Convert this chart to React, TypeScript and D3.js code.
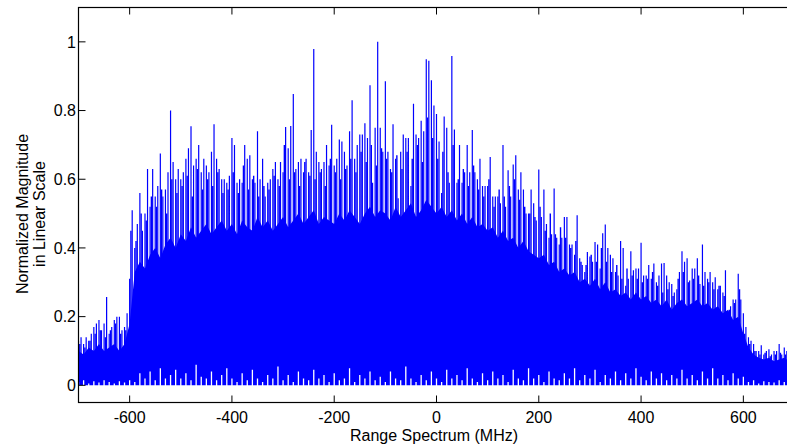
import React from 'react';
import * as d3 from 'd3';

const W = 787;
const H = 446;

const xTicks = [-600, -400, -200, 0, 200, 400, 600];
const xTickLabels = ['-600', '-400', '-200', '0', '200', '400', '600'];
const yTicks = [0, 0.2, 0.4, 0.6, 0.8, 1];
const yTickLabels = ['0', '0.2', '0.4', '0.6', '0.8', '1'];

// spike maxima read every 5 MHz, from -700 MHz to 700 MHz
const peakStart = -700;
const peakStep = 5;
const peaks = [
  0.13, 0.14, 0.12, 0.14, 0.13, 0.15, 0.17, 0.18, 0.19, 0.16, 0.18, 0.257, 0.15, 0.17, 0.19, 0.2, 0.2, 0.16, 0.17, 0.21,
  0.31, 0.51, 0.4, 0.47, 0.56, 0.45, 0.5, 0.63, 0.52, 0.63, 0.55, 0.58, 0.675, 0.55, 0.57, 0.62, 0.8, 0.65, 0.6, 0.63,
  0.6, 0.62, 0.66, 0.69, 0.754, 0.64, 0.66, 0.7, 0.62, 0.66, 0.64, 0.62, 0.68, 0.76, 0.66, 0.63, 0.6, 0.6, 0.59, 0.61,
  0.72, 0.7, 0.59, 0.6, 0.59, 0.7, 0.66, 0.67, 0.6, 0.59, 0.74, 0.6, 0.66, 0.55, 0.59, 0.6, 0.63, 0.65, 0.6, 0.65,
  0.62, 0.752, 0.69, 0.755, 0.848, 0.63, 0.65, 0.66, 0.62, 0.66, 0.62, 0.743, 0.979, 0.68, 0.65, 0.63, 0.65, 0.7, 0.64, 0.759,
  0.64, 0.66, 0.716, 0.71, 0.68, 0.64, 0.74, 0.83, 0.66, 0.7, 0.73, 0.73, 0.763, 0.72, 0.874, 0.59, 0.75, 1.0, 0.75, 0.68,
  0.885, 0.68, 0.63, 0.76, 0.66, 0.545, 0.68, 0.73, 0.72, 0.72, 0.58, 0.82, 0.73, 0.72, 0.77, 0.74, 0.949, 0.945, 0.888, 0.815,
  0.79, 0.71, 0.56, 0.783, 0.75, 0.59, 0.959, 0.745, 0.59, 0.7, 0.59, 0.62, 0.7, 0.62, 0.743, 0.62, 0.6, 0.66, 0.58, 0.58,
  0.58, 0.665, 0.55, 0.55, 0.55, 0.53, 0.7, 0.52, 0.626, 0.55, 0.643, 0.67, 0.57, 0.62, 0.57, 0.5, 0.5, 0.57, 0.53, 0.48,
  0.628, 0.49, 0.57, 0.47, 0.43, 0.44, 0.573, 0.43, 0.41, 0.43, 0.49, 0.49, 0.41, 0.41, 0.38, 0.495, 0.37, 0.35, 0.33, 0.388,
  0.375, 0.36, 0.417, 0.41, 0.34, 0.443, 0.468, 0.4, 0.38, 0.37, 0.33, 0.32, 0.42, 0.4, 0.29, 0.31, 0.39, 0.335, 0.34, 0.34,
  0.415, 0.32, 0.32, 0.35, 0.31, 0.355, 0.3, 0.32, 0.355, 0.356, 0.32, 0.3, 0.295, 0.27, 0.28, 0.33, 0.39, 0.36, 0.37, 0.305,
  0.34, 0.34, 0.37, 0.295, 0.41, 0.33, 0.31, 0.33, 0.3, 0.315, 0.28, 0.29, 0.27, 0.335, 0.19, 0.23, 0.25, 0.25, 0.325, 0.25,
  0.21, 0.17, 0.14, 0.13, 0.12, 0.1, 0.1, 0.117, 0.09, 0.1, 0.105, 0.09, 0.1, 0.1, 0.12, 0.09, 0.11, 0.1, 0.11, 0.1,
  0.1,
];

// secondary (dense) line tops, every 10 MHz from -697.5 MHz
const midStart = -697.5;
const midStep = 10;
const mids = [
  0.12, 0.11, 0.13, 0.15, 0.16, 0.14, 0.16, 0.18, 0.15, 0.16,
  0.45, 0.42, 0.5, 0.48, 0.55, 0.52, 0.57, 0.5, 0.6, 0.56,
  0.58, 0.61, 0.55, 0.63, 0.57, 0.6, 0.58, 0.62, 0.56, 0.57,
  0.62, 0.56, 0.64, 0.57, 0.61, 0.55, 0.58, 0.57, 0.61, 0.58,
  0.7, 0.6, 0.62, 0.58, 0.65, 0.61, 0.6, 0.62, 0.58, 0.66,
  0.62, 0.6, 0.63, 0.66, 0.62, 0.68, 0.65, 0.7, 0.64, 0.69,
  0.66, 0.62, 0.67, 0.63, 0.68, 0.66, 0.7, 0.65, 0.78, 0.72,
  0.66, 0.68, 0.62, 0.7, 0.6, 0.63, 0.58, 0.64, 0.57, 0.55,
  0.6, 0.52, 0.57, 0.55, 0.58, 0.6, 0.54, 0.52, 0.5, 0.49,
  0.52, 0.45, 0.5, 0.44, 0.46, 0.43, 0.4, 0.42, 0.36, 0.35,
  0.38, 0.36, 0.4, 0.36, 0.33, 0.35, 0.31, 0.34, 0.32, 0.31,
  0.3, 0.31, 0.33, 0.29, 0.27, 0.28, 0.26, 0.31, 0.33, 0.3,
  0.31, 0.32, 0.29, 0.3, 0.28, 0.29, 0.26, 0.22, 0.24, 0.28,
  0.15, 0.12, 0.1, 0.09, 0.095, 0.085, 0.09, 0.095, 0.09, 0.085,
];

// top of the solid band, every 10 MHz from -700 MHz
const bodyStart = -700;
const bodyStep = 10;
const bodyTop = [
  0.1, 0.09, 0.11, 0.1, 0.12, 0.1, 0.11, 0.12, 0.1, 0.12,
  0.18, 0.33, 0.36, 0.34, 0.38, 0.4, 0.37, 0.41, 0.43, 0.4,
  0.44, 0.42, 0.46, 0.43, 0.45, 0.47, 0.44, 0.46, 0.48, 0.45,
  0.47, 0.44, 0.48, 0.46, 0.45, 0.49, 0.46, 0.48, 0.45, 0.47,
  0.49, 0.46, 0.48, 0.5, 0.47, 0.49, 0.51, 0.47, 0.49, 0.48,
  0.47, 0.5, 0.48, 0.51, 0.49, 0.47, 0.5, 0.52, 0.49, 0.51,
  0.5, 0.48, 0.52, 0.49, 0.51, 0.53, 0.49, 0.51, 0.54, 0.52,
  0.5, 0.52, 0.49, 0.51, 0.48, 0.5, 0.47, 0.49, 0.46, 0.47,
  0.45, 0.46, 0.43, 0.45, 0.42, 0.43, 0.4, 0.42, 0.39, 0.38,
  0.37, 0.38, 0.35, 0.36, 0.33, 0.34, 0.32, 0.33, 0.3, 0.31,
  0.29, 0.31, 0.28, 0.3, 0.27, 0.28, 0.26, 0.27, 0.25, 0.27,
  0.25, 0.26, 0.24, 0.25, 0.23, 0.25, 0.22, 0.24, 0.25, 0.23,
  0.24, 0.25, 0.23, 0.24, 0.22, 0.23, 0.21, 0.22, 0.19, 0.2,
  0.15, 0.11, 0.09, 0.08, 0.075, 0.08, 0.07, 0.075, 0.08, 0.07,
  0.075,
];

// tops of the white gaps along the bottom edge, every 10 MHz
const floorStart = -700;
const floorStep = 10;
const floorVals = [
  0.01, 0.015, 0.005, 0.012, 0.008, 0.015, 0.01, 0.005, 0.012, 0.008,
  0.015, 0.01, 0.035, 0.02, 0.04, 0.015, 0.05, 0.02, 0.03, 0.045,
  0.02, 0.035, 0.015, 0.06, 0.025, 0.02, 0.04, 0.015, 0.03, 0.05,
  0.02, 0.01, 0.035, 0.015, 0.045, 0.02, 0.01, 0.03, 0.02, 0.055,
  0.015, 0.03, 0.01, 0.04, 0.02, 0.015, 0.045, 0.02, 0.03, 0.01,
  0.035, 0.015, 0.02, 0.05, 0.01, 0.03, 0.02, 0.04, 0.015, 0.025,
  0.01, 0.04, 0.02, 0.015, 0.055, 0.02, 0.01, 0.03, 0.015, 0.04,
  0.02, 0.01, 0.045, 0.02, 0.03, 0.015, 0.05, 0.02, 0.01, 0.035,
  0.015, 0.04, 0.02, 0.03, 0.01, 0.045, 0.02, 0.015, 0.05, 0.02,
  0.03, 0.01, 0.04, 0.02, 0.015, 0.035, 0.02, 0.05, 0.015, 0.03,
  0.02, 0.045, 0.01, 0.03, 0.02, 0.04, 0.015, 0.035, 0.02, 0.05,
  0.025, 0.015, 0.04, 0.02, 0.035, 0.015, 0.03, 0.02, 0.045, 0.02,
  0.03, 0.015, 0.04, 0.02, 0.05, 0.02, 0.03, 0.015, 0.035, 0.02,
  0.025, 0.01, 0.015, 0.005, 0.012, 0.01, 0.008, 0.015, 0.01, 0.012,
  0.01,
];
const baseLevel = 0.0;

const FONT = '"Liberation Sans", Arial, Helvetica, sans-serif';
const BLUE = '#0000ff';

export default function App() {
  const x = d3.scaleLinear().domain([-700, 700]).range([78.5, 794.5]);
  const y = d3.scaleLinear().domain([-0.05, 1.1]).range([402.5, 7.5]);

  const bodyArea = d3
    .area<number>()
    .x((_, i) => x(bodyStart + i * bodyStep))
    .y0(() => y(baseLevel))
    .y1((v) => y(v));
  const bodyPath = bodyArea(bodyTop) || '';

  const seg = (f: number, v: number) =>
    `M${x(f).toFixed(2)},${y(0.06).toFixed(2)}V${y(v).toFixed(2)}`;
  const spikePath = peaks.map((v, i) => seg(peakStart + i * peakStep, v)).join('');
  const midPath = mids.map((v, i) => seg(midStart + i * midStep, v)).join('');
  const gapPath = floorVals
    .map((v, i) => `M${x(floorStart + i * floorStep).toFixed(2)},${y(-0.02).toFixed(2)}V${y(v).toFixed(2)}`)
    .join('');

  const x0 = x(-700);
  const x1 = x(700);
  const y0 = y(-0.05);
  const y1 = y(1.1);
  const tl = 7;

  return (
    <svg
      width={W}
      height={H}
      style={{ position: 'absolute', left: 0, top: 0, background: '#fff' }}
      fontFamily={FONT}
    >
      <defs>
        <clipPath id="plotclip">
          <rect x={x0} y={y1} width={x1 - x0} height={y0 - y1} />
        </clipPath>
      </defs>
      <g clipPath="url(#plotclip)">
        <path d={bodyPath} fill={BLUE} stroke="none" />
        <path d={midPath} fill="none" stroke={BLUE} strokeWidth={1.4} />
        <path d={spikePath} fill="none" stroke={BLUE} strokeWidth={1.2} />
        <path d={gapPath} fill="none" stroke="#fff" strokeWidth={1.3} />
      </g>

      {/* box */}
      <rect x={x0} y={y1} width={x1 - x0} height={y0 - y1} fill="none" stroke="#000" strokeWidth={1.2} />

      {/* x ticks */}
      {xTicks.map((t, i) => (
        <g key={'xt' + t}>
          <line x1={x(t)} x2={x(t)} y1={y0} y2={y0 - tl} stroke="#000" strokeWidth={1} />
          <line x1={x(t)} x2={x(t)} y1={y1} y2={y1 + tl} stroke="#000" strokeWidth={1} />
          <text x={x(t)} y={423} textAnchor="middle" fontSize={16} fill="#000">
            {xTickLabels[i]}
          </text>
        </g>
      ))}

      {/* y ticks */}
      {yTicks.map((t, i) => (
        <g key={'yt' + t}>
          <line x1={x0} x2={x0 + tl} y1={y(t)} y2={y(t)} stroke="#000" strokeWidth={1} />
          <line x1={x1} x2={x1 - tl} y1={y(t)} y2={y(t)} stroke="#000" strokeWidth={1} />
          <text x={76} y={y(t)} dy="0.36em" textAnchor="end" fontSize={16} fill="#000">
            {yTickLabels[i]}
          </text>
        </g>
      ))}

      <text x={434} y={441} textAnchor="middle" fontSize={16} fill="#000">
        Range Spectrum (MHz)
      </text>
      <text transform="translate(27.5,214) rotate(-90)" textAnchor="middle" fontSize={16} fill="#000">
        Normalized Magnitude
      </text>
      <text transform="translate(45,214) rotate(-90)" textAnchor="middle" fontSize={16} fill="#000">
        in Linear Scale
      </text>
    </svg>
  );
}
